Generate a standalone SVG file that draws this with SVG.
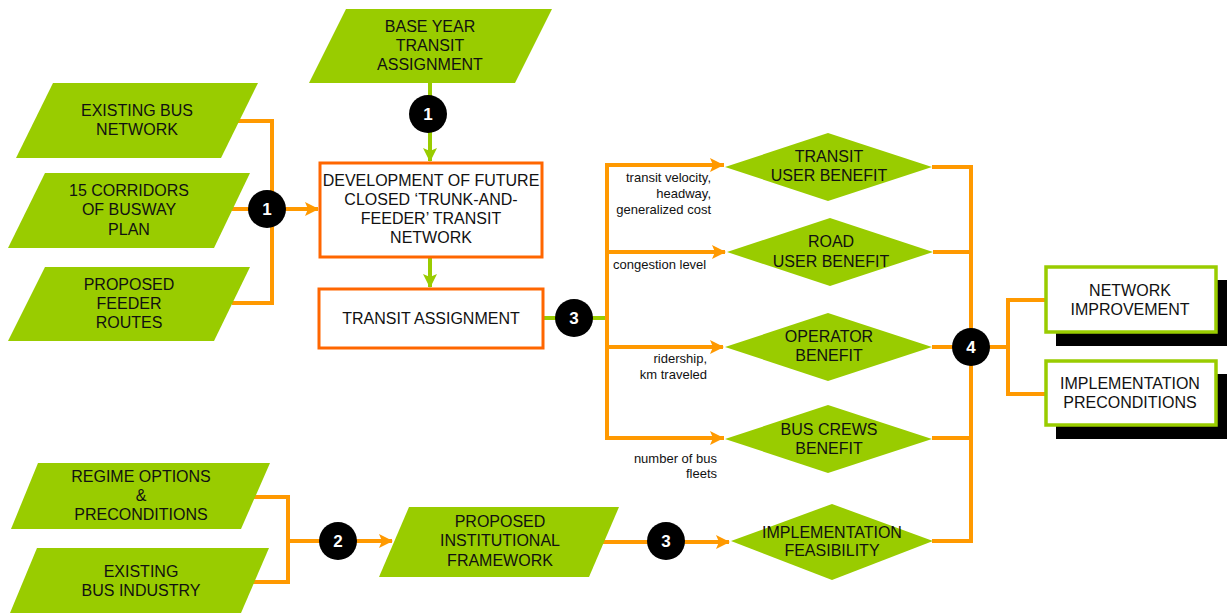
<svg xmlns="http://www.w3.org/2000/svg" width="1227" height="613" viewBox="0 0 1227 613">
<defs>
<style>
.para{fill:#99CC00;}
.t{font-family:"Liberation Sans",Arial,sans-serif;font-size:16px;fill:#111;text-anchor:middle;}
.s{font-family:"Liberation Sans",Arial,sans-serif;font-size:13px;fill:#111;text-anchor:end;}
.sl{font-family:"Liberation Sans",Arial,sans-serif;font-size:13px;fill:#111;text-anchor:start;}
.box{fill:#fff;stroke:#FF6600;stroke-width:3;}
.gbox{fill:#fff;stroke:#99CC00;stroke-width:3.5;}
.shadow{fill:#000;}
.o{fill:none;stroke:#FF9900;stroke-width:4;}
.g{fill:none;stroke:#99CC00;stroke-width:4;}
.dot{fill:#000;}
.num{font-family:"Liberation Sans",Arial,sans-serif;font-size:17px;font-weight:bold;fill:#fff;text-anchor:middle;}
</style>
<marker id="ao" markerUnits="userSpaceOnUse" markerWidth="14" markerHeight="14" refX="13" refY="7" orient="auto"><path d="M0,0 L14,7 L0,14 L3,7 z" fill="#FF9900"/></marker>
<marker id="ag" markerUnits="userSpaceOnUse" markerWidth="14" markerHeight="14" refX="13" refY="7" orient="auto"><path d="M0,0 L14,7 L0,14 L3,7 z" fill="#99CC00"/></marker>
</defs>
<rect width="1227" height="613" fill="#fff"/>

<g id="connectors">
<!-- left bracket 1 -->
<path class="o" d="M218,121 H272 V303 H232"/>
<path class="o" d="M232,209 H318" marker-end="url(#ao)"/>
<!-- base year -->
<path class="g" d="M430,83 V161" marker-end="url(#ag)"/>
<path class="g" d="M430,257 V287" marker-end="url(#ag)"/>
<!-- transit assignment to 3 -->
<path class="g" d="M543,318 H607"/>
<path class="o" d="M724,165 H607 V438 H724"/>
<path class="o" d="M607,165 H723" marker-end="url(#ao)"/>
<path class="o" d="M607,252 H725" marker-end="url(#ao)"/>
<path class="o" d="M607,347 H723" marker-end="url(#ao)"/>
<path class="o" d="M607,438 H723" marker-end="url(#ao)"/>
<!-- right trunk -->
<path class="o" d="M932,167 H971 V541 H932"/>
<path class="o" d="M933,252 H971"/>
<path class="o" d="M932,347 H971"/>
<path class="o" d="M932,438 H971"/>
<path class="o" d="M971,347 H1008"/>
<path class="o" d="M1047,300 H1008 V394 H1047"/>
<!-- bottom -->
<path class="o" d="M253,497 H288 V582 H253"/>
<path class="o" d="M288,541 H392" marker-end="url(#ao)"/>
<path class="o" d="M600,542 H729" marker-end="url(#ao)"/>
<!-- circles -->
<circle class="dot" cx="267" cy="209" r="19"/>
<text class="num" x="267" y="215">1</text>
<circle class="dot" cx="428" cy="114" r="19"/>
<text class="num" x="428" y="120">1</text>
<circle class="dot" cx="574" cy="318" r="19"/>
<text class="num" x="574" y="324">3</text>
<circle class="dot" cx="971" cy="347" r="19"/>
<text class="num" x="971" y="353">4</text>
<circle class="dot" cx="338" cy="541" r="19"/>
<text class="num" x="338" y="547">2</text>
<circle class="dot" cx="666" cy="541" r="19"/>
<text class="num" x="666" y="547">3</text>
<!-- labels -->
<text class="s" x="711" y="182">transit velocity,</text>
<text class="s" x="711" y="198">headway,</text>
<text class="s" x="711" y="214">generalized cost</text>
<text class="sl" x="613" y="269">congestion level</text>
<text class="s" x="707" y="363">ridership,</text>
<text class="s" x="707" y="379">km traveled</text>
<text class="s" x="717" y="463">number of bus</text>
<text class="s" x="717" y="478">fleets</text>
</g>

<g id="base-year">
<polygon class="para" points="346,9 552,9 515,83 309,83"/>
<text class="t" x="430" y="32">BASE YEAR</text>
<text class="t" x="430" y="51">TRANSIT</text>
<text class="t" x="430" y="70">ASSIGNMENT</text>
</g>
<g id="existing-bus-network">
<polygon class="para" points="53,83 258,83 221,158 16,158"/>
<text class="t" x="137" y="116">EXISTING BUS</text>
<text class="t" x="137" y="135">NETWORK</text>
</g>
<g id="corridors">
<polygon class="para" points="45,173 250,173 214,248 8,248"/>
<text class="t" x="129" y="196">15 CORRIDORS</text>
<text class="t" x="129" y="215">OF BUSWAY</text>
<text class="t" x="129" y="235">PLAN</text>
</g>
<g id="feeder-routes">
<polygon class="para" points="45,267 250,267 214,341 8,341"/>
<text class="t" x="129" y="290">PROPOSED</text>
<text class="t" x="129" y="309">FEEDER</text>
<text class="t" x="129" y="328">ROUTES</text>
</g>
<g id="development">
<rect class="box" x="320" y="163" width="222" height="94"/>
<text class="t" x="431" y="186">DEVELOPMENT OF FUTURE</text>
<text class="t" x="431" y="205">CLOSED ‘TRUNK-AND-</text>
<text class="t" x="431" y="224">FEEDER’ TRANSIT</text>
<text class="t" x="431" y="243">NETWORK</text>
</g>
<g id="transit-assignment">
<rect class="box" x="319" y="289" width="224" height="59"/>
<text class="t" x="431" y="324">TRANSIT ASSIGNMENT</text>
</g>
<g id="transit-user-benefit">
<polygon class="para" points="725,167 828,133 932,167 828,201"/>
<text class="t" x="829" y="162">TRANSIT</text>
<text class="t" x="829" y="181">USER BENEFIT</text>
</g>
<g id="road-user-benefit">
<polygon class="para" points="727,252 830,218 933,252 830,286"/>
<text class="t" x="831" y="247">ROAD</text>
<text class="t" x="831" y="267">USER BENEFIT</text>
</g>
<g id="operator-benefit">
<polygon class="para" points="725,347 828,313 932,347 828,381"/>
<text class="t" x="829" y="342">OPERATOR</text>
<text class="t" x="829" y="361">BENEFIT</text>
</g>
<g id="bus-crews-benefit">
<polygon class="para" points="725,439 828,405 932,439 828,473"/>
<text class="t" x="829" y="435">BUS CREWS</text>
<text class="t" x="829" y="454">BENEFIT</text>
</g>
<g id="implementation-feasibility">
<polygon class="para" points="731,541 832,504 933,541 832,580"/>
<text class="t" x="832" y="538">IMPLEMENTATION</text>
<text class="t" x="832" y="556">FEASIBILITY</text>
</g>
<g id="network-improvement">
<rect class="shadow" x="1056" y="280" width="172" height="66"/>
<rect class="gbox" x="1046" y="267" width="170" height="65"/>
<text class="t" x="1130" y="296">NETWORK</text>
<text class="t" x="1130" y="315">IMPROVEMENT</text>
</g>
<g id="implementation-preconditions">
<rect class="shadow" x="1056" y="374" width="172" height="65"/>
<rect class="gbox" x="1046" y="361" width="170" height="64"/>
<text class="t" x="1130" y="389">IMPLEMENTATION</text>
<text class="t" x="1130" y="408">PRECONDITIONS</text>
</g>
<g id="regime-options">
<polygon class="para" points="38,463 270,463 241,529 11,529"/>
<text class="t" x="141" y="482">REGIME OPTIONS</text>
<text class="t" x="141" y="501">&amp;</text>
<text class="t" x="141" y="520">PRECONDITIONS</text>
</g>
<g id="existing-bus-industry">
<polygon class="para" points="37,548 269,548 241,613 10,613"/>
<text class="t" x="141" y="577">EXISTING</text>
<text class="t" x="141" y="596">BUS INDUSTRY</text>
</g>
<g id="institutional-framework">
<polygon class="para" points="409,507 619,507 589,577 379,577"/>
<text class="t" x="500" y="527">PROPOSED</text>
<text class="t" x="500" y="546">INSTITUTIONAL</text>
<text class="t" x="500" y="566">FRAMEWORK</text>
</g>
</svg>
